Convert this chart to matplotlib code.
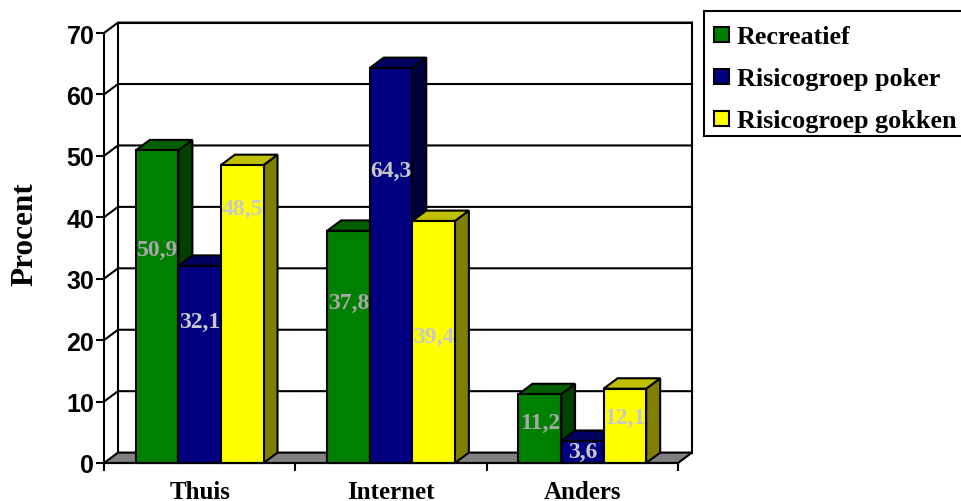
import matplotlib
matplotlib.use('Agg')
import matplotlib.pyplot as plt
from matplotlib.patches import Polygon, Rectangle

# Data
categories = ['Thuis', 'Internet', 'Anders']
recreatief = [50.9, 37.8, 11.2]
risico_poker = [32.1, 64.3, 3.6]
risico_gokken = [48.5, 39.4, 12.1]
series_names = ['Recreatief', 'Risicogroep poker', 'Risicogroep gokken']
y_ticks = [0, 10, 20, 30, 40, 50, 60, 70]

W, H = 961, 502
LW = 1.5
serif = 'Liberation Serif'
sans = 'Liberation Sans'

# front, top, side colours of each series
colors = [('#008000', '#006000', '#004000'),
          ('#000080', '#000060', '#000040'),
          ('#FFFF00', '#C0C000', '#808000')]
label_colors = ['#A8A8A8', '#C8C8C8', '#C8C8C8']

fig = plt.figure(figsize=(W / 100, H / 100), dpi=100)
ax = fig.add_axes([104 / W, 1 - 464 / H, 574 / W, 430 / H])
ax.set_xlim(0, 3)
ax.set_ylim(0, 70)
ax.patch.set_visible(False)

# 3d offset in data units
dx = 14 / (574 / 3)
dy = 10.4 / (430 / 70)
bar_w = 0.2225

# back wall and floor
ax.add_patch(Polygon([(dx, dy), (3 + dx, dy), (3 + dx, 70 + dy), (dx, 70 + dy)], closed=True,
                     fc='white', ec='black', lw=LW, clip_on=False, zorder=1))
ax.add_patch(Polygon([(0, 0), (dx, dy), (3 + dx, dy), (3, 0)], closed=True,
                     fc='#808080', ec='black', lw=LW, clip_on=False, zorder=2))
# grid on the wall and on the left side
for t in y_ticks[1:]:
    ax.plot([0, dx, 3 + dx], [t, t + dy, t + dy], color='black', lw=LW, clip_on=False, zorder=1.5)

# bars, painted left to right
all_series = [recreatief, risico_poker, risico_gokken]
z = 3
for c in range(len(categories)):
    for s, vals in enumerate(all_series):
        x0 = c + 0.5 + (s - 1.5) * bar_w
        x1 = x0 + bar_w
        v = vals[c]
        front, top, side = colors[s]
        ax.add_patch(Polygon([(x1, 0), (x1 + dx, dy), (x1 + dx, v + dy), (x1, v)], closed=True,
                             fc=side, ec='black', lw=LW, clip_on=False, zorder=z))
        ax.add_patch(Polygon([(x0, v), (x0 + dx, v + dy), (x1 + dx, v + dy), (x1, v)], closed=True,
                             fc=top, ec='black', lw=LW, clip_on=False, zorder=z))
        ax.bar(x0, v, width=bar_w, align='edge', color=front, edgecolor='black', lw=LW,
               clip_on=False, zorder=z + 0.5)
        z += 1

# value labels sit at hand placed heights in the original
label_heights = [[34.7, 23.1, 41.5], [26.2, 47.7, 20.6], [6.6, 1.8, 7.4]]
for c in range(len(categories)):
    for s, vals in enumerate(all_series):
        xc = c + 0.5 + (s - 1) * bar_w
        ax.text(xc, label_heights[c][s], f'{vals[c]:.1f}'.replace('.', ','), ha='center', va='center',
                family=serif, weight='bold', fontsize=17, color=label_colors[s], zorder=50)

# axes
for name in ['top', 'right']:
    ax.spines[name].set_visible(False)
for name in ['left', 'bottom']:
    ax.spines[name].set_linewidth(LW)
    ax.spines[name].set_zorder(40)
ax.set_yticks(y_ticks)
ax.set_yticklabels([str(t) for t in y_ticks], family=sans, weight='bold', fontsize=18)
ax.set_xticks([0, 1, 2, 3])
ax.set_xticklabels([])
ax.set_xticks([0.5, 1.5, 2.5], minor=True)
ax.set_xticklabels(categories, minor=True, family=serif, weight='bold', fontsize=18)
ax.tick_params(axis='y', length=6, width=LW, pad=1)
ax.tick_params(axis='x', which='major', length=6, width=LW)
ax.tick_params(axis='x', which='minor', length=0, pad=12)
ax.set_ylabel('Procent', family=serif, weight='bold', fontsize=22.5)
ax.yaxis.set_label_coords((39 - 104) / 574, (464 - 234) / 430)

# legend box runs off the right edge of the image
fig.add_artist(Rectangle((704 / W, 1 - 137 / H), 270 / W, 125 / H, transform=fig.transFigure,
                         fc='white', ec='black', lw=LW))
legend_ys = [35, 77, 119]
for name, col, ly in zip(series_names, colors, legend_ys):
    fig.add_artist(Rectangle((714 / W, 1 - (ly + 7.5) / H), 15 / W, 15 / H, transform=fig.transFigure,
                             fc=col[0], ec='black', lw=LW))
    fig.text(737 / W, 1 - (ly + 9) / H, name, family=serif, weight='bold', fontsize=18.8,
             va='baseline', ha='left')

fig.savefig('out.png', dpi=100)
